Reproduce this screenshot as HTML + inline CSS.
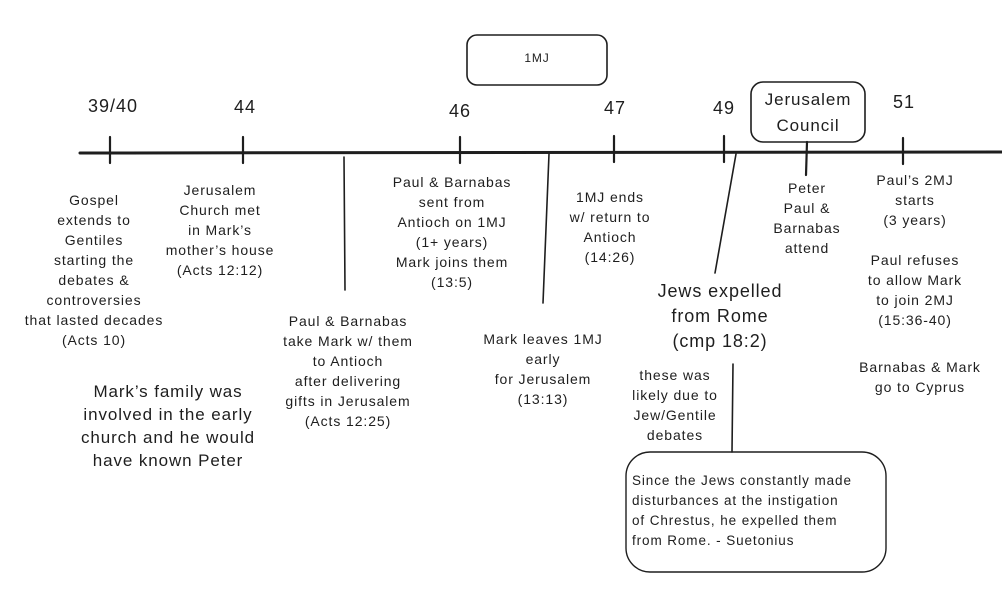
<!DOCTYPE html>
<html><head><meta charset="utf-8"><style>
body{margin:0;width:1002px;height:590px;background:#fff;position:relative;overflow:hidden;font-family:"Liberation Sans",sans-serif;color:#1e1e1e}
.t{position:absolute;text-align:center;font-size:14px;letter-spacing:0.9px;line-height:20px;white-space:nowrap;transform:translateX(-50%)}
.y{position:absolute;font-size:18px;letter-spacing:1px;transform:translateX(-50%);white-space:nowrap}
svg{position:absolute;left:0;top:0}
</style></head><body>
<svg width="1002" height="590">
<g stroke="#1e1e1e" fill="none" stroke-linecap="round">
<line x1="80" y1="153" x2="1002" y2="152" stroke-width="3"/>
<g stroke-width="2.2">
<line x1="110" y1="137" x2="110" y2="163"/>
<line x1="243" y1="137" x2="243" y2="163"/>
<line x1="460" y1="137" x2="460" y2="163"/>
<line x1="614" y1="136" x2="614" y2="162"/>
<line x1="724" y1="136" x2="724" y2="162"/>
<line x1="903" y1="138" x2="903" y2="164"/>
<line x1="807" y1="142" x2="806" y2="175"/>
</g>
<g stroke-width="1.6">
<line x1="344" y1="157" x2="345" y2="290"/>
<line x1="549" y1="154" x2="543" y2="303"/>
<line x1="736" y1="154" x2="715" y2="273"/>
<line x1="733" y1="364" x2="732" y2="452"/>
</g>
<rect x="467" y="35" width="140" height="50" rx="10" stroke-width="1.6"/>
<rect x="751" y="82" width="114" height="60" rx="12" stroke-width="1.6"/>
<rect x="626" y="452" width="260" height="120" rx="24" stroke-width="1.4"/>
</g>
</svg>
<div class="t" style="left:537px;top:48px;font-size:12px">1MJ</div>
<div class="t" style="left:808px;top:87px;font-size:17px;line-height:26px">Jerusalem<br>Council</div>
<div class="y" style="left:113px;top:96px">39/40</div>
<div class="y" style="left:245px;top:97px">44</div>
<div class="y" style="left:460px;top:101px">46</div>
<div class="y" style="left:615px;top:98px">47</div>
<div class="y" style="left:724px;top:98px">49</div>
<div class="y" style="left:904px;top:92px">51</div>
<div class="t" style="left:94px;top:190px">Gospel<br>extends to<br>Gentiles<br>starting the<br>debates &amp;<br>controversies<br>that lasted decades<br>(Acts 10)</div>
<div class="t" style="left:220px;top:180px">Jerusalem<br>Church met<br>in Mark’s<br>mother’s house<br>(Acts 12:12)</div>
<div class="t" style="left:452px;top:172px">Paul &amp; Barnabas<br>sent from<br>Antioch on 1MJ<br>(1+ years)<br>Mark joins them<br>(13:5)</div>
<div class="t" style="left:610px;top:187px">1MJ ends<br>w/ return to<br>Antioch<br>(14:26)</div>
<div class="t" style="left:807px;top:178px">Peter<br>Paul &amp;<br>Barnabas<br>attend</div>
<div class="t" style="left:915px;top:170px">Paul’s 2MJ<br>starts<br>(3 years)</div>
<div class="t" style="left:915px;top:250px">Paul refuses<br>to allow Mark<br>to join 2MJ<br>(15:36-40)</div>
<div class="t" style="left:920px;top:357px">Barnabas &amp; Mark<br>go to Cyprus</div>
<div class="t" style="left:348px;top:311px">Paul &amp; Barnabas<br>take Mark w/ them<br>to Antioch<br>after delivering<br>gifts in Jerusalem<br>(Acts 12:25)</div>
<div class="t" style="left:543px;top:329px">Mark leaves 1MJ<br>early<br>for Jerusalem<br>(13:13)</div>
<div class="t" style="left:720px;top:279px;font-size:18px;line-height:25px">Jews expelled<br>from Rome<br>(cmp 18:2)</div>
<div class="t" style="left:675px;top:365px">these was<br>likely due to<br>Jew/Gentile<br>debates</div>
<div class="t" style="left:168px;top:380px;font-size:17px;line-height:23px">Mark’s family was<br>involved in the early<br>church and he would<br>have known Peter</div>
<div class="t" style="left:632px;top:471px;transform:none;text-align:left;font-size:13.5px">Since the Jews constantly made<br>disturbances at the instigation<br>of Chrestus, he expelled them<br>from Rome. - Suetonius</div>
</body></html>
